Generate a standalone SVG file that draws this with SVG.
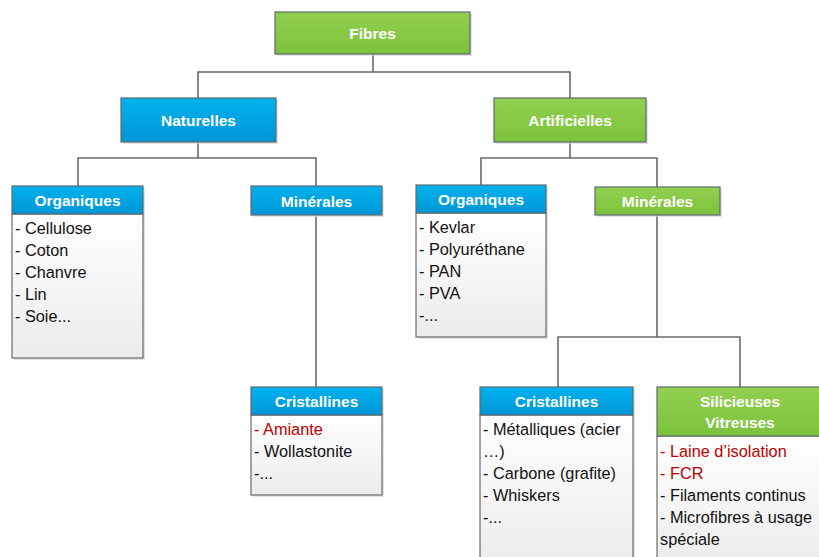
<svg xmlns="http://www.w3.org/2000/svg" width="819" height="557" viewBox="0 0 819 557">
<defs>
<linearGradient id="gBlue" x1="0" y1="0" x2="0" y2="1"><stop offset="0" stop-color="#00b2ee"/><stop offset="1" stop-color="#0096d4"/></linearGradient>
<linearGradient id="gGreen" x1="0" y1="0" x2="0" y2="1"><stop offset="0" stop-color="#92d050"/><stop offset="1" stop-color="#7cc23c"/></linearGradient>
<linearGradient id="gBody" x1="0" y1="0" x2="0" y2="1"><stop offset="0" stop-color="#ffffff"/><stop offset="1" stop-color="#ececec"/></linearGradient>
</defs>
<style>
.blue{fill:url(#gBlue);stroke:#5e6a70;stroke-width:1.2}
.green{fill:url(#gGreen);stroke:#5e6a70;stroke-width:1.2}
.body{fill:url(#gBody);stroke:#6a6a6a;stroke-width:1.2}
.sh{fill:#d8d8d8;opacity:0.7}
.h{font-family:"Liberation Sans",Arial,sans-serif;font-weight:bold;font-size:15.5px;fill:#ffffff;text-anchor:middle}
.t{font-family:"Liberation Sans",Arial,sans-serif;font-size:16.3px;fill:#111111}
.r{fill:#c00000}
.c{fill:none;stroke:#6a6a6a;stroke-width:1.6}
</style>
<g id="connectors">
<path class="c" d="M373 54V72M198 98V72H570V98"/>
<path class="c" d="M198 142V158M78 186V158H316V186"/>
<path class="c" d="M316 215V387"/>
<path class="c" d="M570 142V158M481 185V158H657V187"/>
<path class="c" d="M657 215V337M558 387V337H740V387"/>
</g>
<g id="fibres">
<rect class="sh" x="277" y="14" width="195" height="42"/>
<rect class="green" x="275" y="12" width="195" height="42"/>
<text class="h" x="372.5" y="39">Fibres</text>
</g>
<g id="naturelles">
<rect class="sh" x="123" y="100" width="155" height="44"/>
<rect class="blue" x="121" y="98" width="155" height="44"/>
<text class="h" x="198.5" y="126">Naturelles</text>
</g>
<g id="artificielles">
<rect class="sh" x="496" y="100" width="152" height="44"/>
<rect class="green" x="494" y="98" width="152" height="44"/>
<text class="h" x="570" y="126">Artificielles</text>
</g>
<g id="organiques-nat">
<rect class="sh" x="14" y="188" width="131" height="172"/>
<rect class="body" x="12" y="214" width="131" height="144"/>
<rect class="blue" x="12" y="186" width="131" height="28"/>
<text class="h" x="77.5" y="206">Organiques</text>
<text class="t" x="15" y="234">- Cellulose</text>
<text class="t" x="15" y="256">- Coton</text>
<text class="t" x="15" y="278">- Chanvre</text>
<text class="t" x="15" y="300">- Lin</text>
<text class="t" x="15" y="322">- Soie...</text>
</g>
<g id="minerales-nat">
<rect class="sh" x="253" y="188" width="131" height="29"/>
<rect class="blue" x="251" y="186" width="131" height="29"/>
<text class="h" x="316.5" y="207">Minérales</text>
</g>
<g id="cristallines-nat">
<rect class="sh" x="253" y="389" width="131" height="108"/>
<rect class="body" x="251" y="415" width="131" height="80"/>
<rect class="blue" x="251" y="387" width="131" height="28"/>
<text class="h" x="316.5" y="407">Cristallines</text>
<text class="t r" x="254" y="435">- Amiante</text>
<text class="t" x="254" y="457">- Wollastonite</text>
<text class="t" x="254" y="479">-...</text>
</g>
<g id="organiques-art">
<rect class="sh" x="418" y="187" width="130" height="152"/>
<rect class="body" x="416" y="213" width="130" height="124"/>
<rect class="blue" x="416" y="185" width="130" height="28"/>
<text class="h" x="481" y="205">Organiques</text>
<text class="t" x="419" y="233">- Kevlar</text>
<text class="t" x="419" y="255">- Polyuréthane</text>
<text class="t" x="419" y="277">- PAN</text>
<text class="t" x="419" y="299">- PVA</text>
<text class="t" x="419" y="321">-...</text>
</g>
<g id="minerales-art">
<rect class="sh" x="597" y="189" width="125" height="28"/>
<rect class="green" x="595" y="187" width="125" height="28"/>
<text class="h" x="657.5" y="207">Minérales</text>
</g>
<g id="cristallines-art">
<rect class="sh" x="482" y="389" width="153" height="180"/>
<rect class="body" x="480" y="415" width="153" height="152"/>
<rect class="blue" x="480" y="387" width="153" height="28"/>
<text class="h" x="556.5" y="407">Cristallines</text>
<text class="t" x="483" y="435">- Métalliques (acier</text>
<text class="t" x="483" y="457">…)</text>
<text class="t" x="483" y="479">- Carbone (grafite)</text>
<text class="t" x="483" y="501">- Whiskers</text>
<text class="t" x="483" y="523">-...</text>
</g>
<g id="silicieuses">
<rect class="sh" x="659" y="389" width="166" height="180"/>
<rect class="body" x="657" y="436" width="166" height="131"/>
<rect class="green" x="657" y="387" width="166" height="49"/>
<text class="h" x="740" y="407">Silicieuses</text>
<text class="h" x="740" y="428">Vitreuses</text>
<text class="t r" x="660" y="457">- Laine d’isolation</text>
<text class="t r" x="660" y="479">- FCR</text>
<text class="t" x="660" y="501">- Filaments continus</text>
<text class="t" x="660" y="523">- Microfibres à usage</text>
<text class="t" x="660" y="545">spéciale</text>
</g>
</svg>
